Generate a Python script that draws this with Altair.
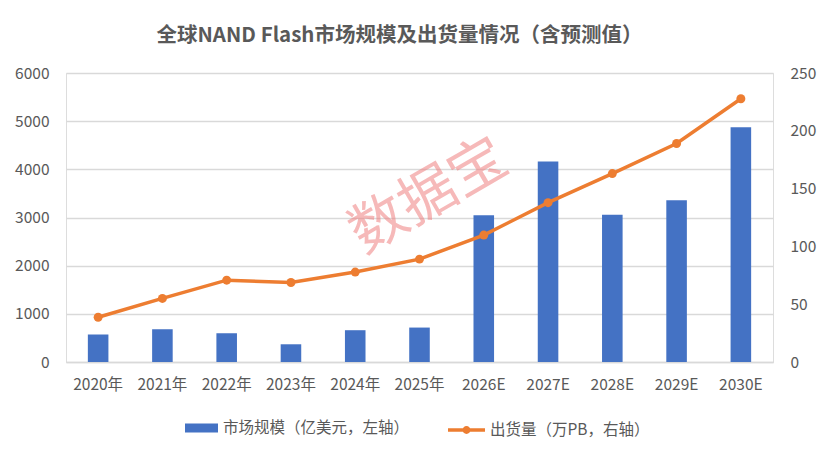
import altair as alt
import pandas as pd

years = ["2020年", "2021年", "2022年", "2023年", "2024年", "2025年",
         "2026E", "2027E", "2028E", "2029E", "2030E"]
market = [570, 680, 597, 368, 660, 715, 3046, 4161, 3058, 3357, 4876]
shipment = [38.7, 55.0, 70.8, 68.8, 77.8, 89.0, 109.8, 137.8, 163.0, 189.0, 227.7]

bar_name = "市场规模（亿美元，左轴）"
line_name = "出货量（万PB，右轴）"
title_text = "全球NAND Flash市场规模及出货量情况（含预测值）"
watermark = "数据宝"

BLUE = "#4472C4"
ORANGE = "#ED7D31"
GRID = "#D9D9D9"
TXT = "#595959"
FONT = "Noto Sans CJK SC"

df = pd.DataFrame({
    "year": years,
    "market": market,
    "shipment": shipment,
    "s1": bar_name,
    "s2": line_name,
})

xenc = alt.X(
    "year:N",
    sort=years,
    title=None,
    scale=alt.Scale(paddingInner=0.68, paddingOuter=0.34),
    axis=alt.Axis(labelAngle=0, labelFontSize=15.5, labelColor=TXT, labelFont=FONT,
                  ticks=False, domain=True, domainColor=GRID, domainWidth=1.3,
                  labelPadding=15, grid=False),
)

bars = alt.Chart(df).mark_bar(color=BLUE).encode(
    x=xenc,
    y=alt.Y("market:Q", title=None,
            scale=alt.Scale(domain=[0, 6000], nice=False),
            axis=alt.Axis(orient="left", values=[0, 1000, 2000, 3000, 4000, 5000, 6000],
                          format="d",
                          grid=True, gridColor=GRID, gridWidth=1.3, domain=False, ticks=False,
                          labelFontSize=15.5, labelColor=TXT, labelFont=FONT, labelPadding=17)),
    color=alt.Color("s1:N", scale=alt.Scale(domain=[bar_name], range=[BLUE]),
                    legend=alt.Legend(title=None, orient="none", legendX=119, legendY=338.5,
                                      padding=0, labelLimit=400,
                                      symbolType="M-1,-0.27L1,-0.27L1,0.27L-1,0.27Z",
                                      symbolSize=1089, symbolStrokeWidth=0,
                                      labelFont=FONT, labelFontSize=15.5, labelColor=TXT,
                                      labelOffset=5)),
)

wm = alt.Chart(alt.Data(values=[{"t": watermark}])).mark_text(
    font=FONT, fontSize=57, color="#F08080", opacity=0.55, angle=330,
    align="center", baseline="middle",
).encode(
    text="t:N",
    x=alt.value(363),
    y=alt.value(124),
)

line = alt.Chart(df).mark_line(
    strokeWidth=3.5,
    point=alt.OverlayMarkDef(filled=True, size=80, color=ORANGE, opacity=1),
).encode(
    x=alt.X("year:N", sort=years),
    y=alt.Y("shipment:Q", title=None,
            scale=alt.Scale(domain=[0, 250], nice=False),
            axis=alt.Axis(orient="right", values=[0, 50, 100, 150, 200, 250],
                          grid=False, domain=False, ticks=False,
                          labelFontSize=15.5, labelColor=TXT, labelFont=FONT, labelPadding=17)),
    color=alt.Color("s2:N", scale=alt.Scale(domain=[line_name], range=[ORANGE]),
                    legend=alt.Legend(title=None, orient="none", legendX=380, legendY=336.5,
                                      padding=0, labelLimit=400,
                                      symbolType="M-1,0L1,0M-0.12,0A0.12,0.12 0 1,0 0.12,0A0.12,0.12 0 1,0 -0.12,0Z",
                                      symbolSize=1369, symbolStrokeWidth=3.5,
                                      symbolFillColor=ORANGE, symbolStrokeColor=ORANGE,
                                      labelFont=FONT, labelFontSize=15.5, labelColor=TXT,
                                      labelOffset=3)),
)

chart = alt.layer(bars, wm, line).resolve_scale(
    y="independent", color="independent"
).properties(
    width=707,
    height=289,
    title=alt.TitleParams(title_text, fontSize=20.5, fontWeight="bold", color=TXT, font=FONT,
                          anchor="middle", dx=-20, offset=20, frame="group"),
    autosize=alt.AutoSizeParams(type="none"),
    padding={"left": 58, "top": 65, "right": 51, "bottom": 86},
).configure_view(stroke=None).configure(background="white")

chart.save("out.html", embed_options={"renderer": "svg", "actions": False})
